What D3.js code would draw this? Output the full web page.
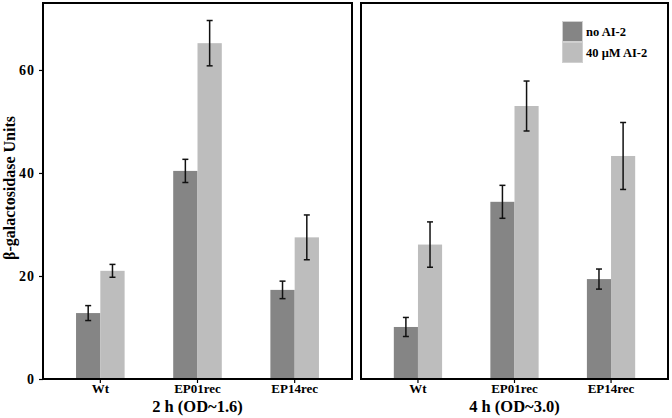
<!DOCTYPE html>
<html><head><meta charset="utf-8">
<script src="https://cdn.jsdelivr.net/npm/d3@7"></script>
<style>
body{margin:0;background:#fff;}
text{font-family:"Liberation Serif","Times New Roman",serif;font-weight:bold;fill:#000;}
</style></head>
<body><svg id="c" width="672" height="418"></svg>
<script>
const categories = ["Wt","EP01rec","EP14rec"];
const series = ["no AI-2","40 μM AI-2"];
const panels = ["2 h (OD~1.6)","4 h (OD~3.0)"];
// means
const noAI2_2h   = [12.8, 40.4, 17.3];
const ai2_2h     = [21.0, 65.2, 27.5];
const noAI2_4h   = [10.1, 34.4, 19.4];
const ai2_4h     = [26.1, 53.0, 43.3];
// error half-widths
const noAI2_2h_err = [1.45, 2.25, 1.7];
const ai2_2h_err   = [1.25, 4.4, 4.35];
const noAI2_4h_err = [1.85, 3.2, 1.95];
const ai2_4h_err   = [4.4, 4.85, 6.5];
const yTicks = [0,20,40,60];

(function(){
const colors = ["#858585","#bdbdbd"];
const data = [
  [[noAI2_2h, noAI2_2h_err],[ai2_2h, ai2_2h_err]],
  [[noAI2_4h, noAI2_4h_err],[ai2_4h, ai2_4h_err]]
];
const svg = d3.select("#c");
const yTop = 3, yBot = 379;
const y = d3.scaleLinear().domain([0,73]).range([yBot, yTop]);
const panelX = [[43,352],[361,668]];

panels.forEach((title,p)=>{
  const [x0,x1] = panelX[p];
  const x = d3.scaleBand().domain(categories).range([x0,x1]).paddingInner(0.5).paddingOuter(0.34);
  const xs = d3.scaleBand().domain(series).range([0,x.bandwidth()]);
  const g = svg.append("g");
  series.forEach((s,si)=>{
    const [vals, errs] = data[p][si];
    categories.forEach((c,ci)=>{
      const bx = x(c)+xs(s);
      g.append("rect").attr("x",bx).attr("width",xs.bandwidth())
        .attr("y",y(vals[ci])).attr("height",y(0)-y(vals[ci])).attr("fill",colors[si]);
      const cx = bx + xs.bandwidth()/2;
      const hi = y(vals[ci]+errs[ci]), lo = y(vals[ci]-errs[ci]);
      g.append("line").attr("x1",cx).attr("x2",cx).attr("y1",hi).attr("y2",lo).attr("stroke","#111").attr("stroke-width",1.5);
      [hi,lo].forEach(v=>g.append("line").attr("x1",cx-3).attr("x2",cx+3).attr("y1",v).attr("y2",v).attr("stroke","#111").attr("stroke-width",1.5));
    });
  });
  g.append("rect").attr("x",x0).attr("y",yTop).attr("width",x1-x0).attr("height",yBot-yTop)
    .attr("fill","none").attr("stroke","#000").attr("stroke-width",2);
  const xa = g.append("g").attr("transform",`translate(0,${yBot})`)
    .call(d3.axisBottom(x).tickSize(4).tickPadding(1));
  xa.select(".domain").remove();
  xa.selectAll("line").attr("stroke","#000").attr("stroke-width",1.2);
  xa.selectAll("text").style("font-size","13px").style("font-family","Liberation Serif").style("font-weight","bold");
  g.append("text").attr("x",(x(categories[1])+x.bandwidth()/2)).attr("y",412)
    .attr("text-anchor","middle").style("font-size","16.5px").text(title);
  if(p===0){
    const ya = g.append("g").attr("transform",`translate(${x0},0)`)
      .call(d3.axisLeft(y).tickValues(yTicks).tickSize(4).tickPadding(4));
    ya.select(".domain").remove();
    ya.selectAll("line").attr("stroke","#000").attr("stroke-width",1.2);
    ya.selectAll("text").style("font-size","14px").style("letter-spacing","1px").style("font-family","Liberation Serif").style("font-weight","bold");
  }
});
svg.append("text").attr("transform","translate(15,188) rotate(-90)").attr("text-anchor","middle")
  .style("font-size","16px").text("β-galactosidase Units");

const lg = svg.append("g").attr("transform","translate(562,21)");
series.forEach((s,i)=>{
  lg.append("rect").attr("x",0.5).attr("y",i*21+0.5).attr("width",20).attr("height",20)
    .attr("fill",colors[i]).attr("stroke","#d0d0d0").attr("stroke-width",1);
  lg.append("text").attr("x",24).attr("y",i*21+15).style("font-size","12.5px").text(s);
});
})();
</script></body></html>
